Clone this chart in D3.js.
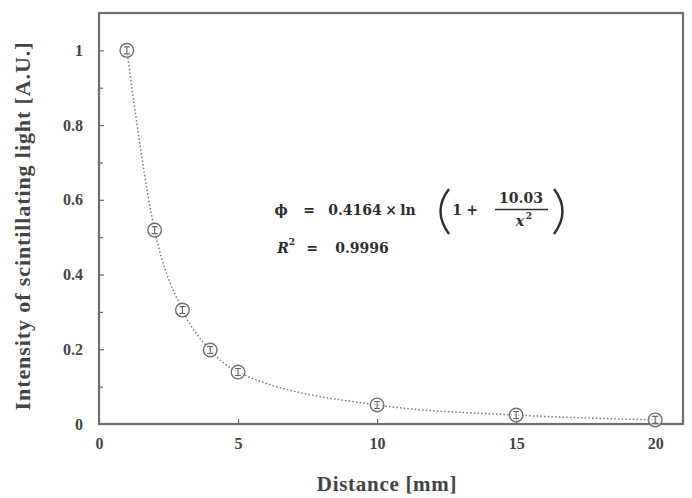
<!DOCTYPE html>
<html lang="en">
<head>
<meta charset="UTF-8">
<title>Scintillating light vs distance</title>
<script src="https://cdn.jsdelivr.net/npm/d3@7"></script>
<style>
body { margin: 0; background: #fff; }
text { font-family: 'Liberation Serif', 'Times New Roman', serif; font-weight: bold; fill: #444; }
.eq text { font-family: 'DejaVu Serif', serif; font-size: 14px; fill: #2e2e2e; }
</style>
</head>
<body>
<svg width="692" height="498"></svg>
<script>
// measured points
var distances = [1, 2, 3, 4, 5, 10, 15, 20];
var intensities = [1.0, 0.519, 0.305, 0.198, 0.139, 0.051, 0.024, 0.011];
var xTicks = [0, 5, 10, 15, 20];
var yTicks = [0, 0.2, 0.4, 0.6, 0.8, 1];
var yMinorTicks = [0.1, 0.3, 0.5, 0.7, 0.9];

var svg = d3.select("svg");
var margin = {top: 13, right: 9, bottom: 74, left: 99};
var width = 692 - margin.left - margin.right;
var height = 498 - margin.top - margin.bottom;

var g = svg.append("g").attr("transform", "translate(" + margin.left + "," + margin.top + ")");

var x = d3.scaleLinear().domain([0, 21]).range([0, width]);
var y = d3.scaleLinear().domain([0, 1.1]).range([height, 0]);

var points = distances.map(function(d, i) { return {x: d, y: intensities[i]}; });

// axes
var yAxis = d3.axisLeft(y).tickValues(yTicks).tickFormat(d3.format("")).tickSize(-5).tickPadding(16);
var yMinor = d3.axisLeft(y).tickValues(yMinorTicks).tickFormat("").tickSize(-4);
var xAxis = d3.axisBottom(x).tickValues(xTicks).tickSize(-5).tickPadding(14);

g.append("g").attr("class", "y axis").call(yAxis);
g.append("g").attr("class", "y minor").call(yMinor);
g.append("g").attr("class", "x axis").attr("transform", "translate(0," + height + ")").call(xAxis);

g.selectAll(".axis .domain, .minor .domain").remove();
g.selectAll(".tick line").attr("stroke", "#666").attr("stroke-width", 1.2);
g.selectAll(".tick text").style("font-size", "16px").attr("fill", "#4a4a4a");

// frame
g.append("rect")
    .attr("width", width).attr("height", height)
    .attr("fill", "none").attr("stroke", "#6e6e6e").attr("stroke-width", 2.2);

// dotted fit through the points
var line = d3.line()
    .x(function(d) { return x(d.x); })
    .y(function(d) { return y(d.y); })
    .curve(d3.curveMonotoneX);

g.append("path")
    .datum(points)
    .attr("d", line)
    .attr("fill", "none")
    .attr("stroke", "#7a7a7a")
    .attr("stroke-width", 1.5)
    .attr("stroke-dasharray", "1.5,2.2");

// markers with tiny error bars
var markers = g.selectAll(".marker").data(points).enter().append("g")
    .attr("class", "marker")
    .attr("transform", function(d) { return "translate(" + x(d.x) + "," + y(d.y) + ")"; });

markers.append("circle").attr("r", 6.8)
    .attr("fill", "#fff").attr("fill-opacity", 0.6)
    .attr("stroke", "#707070").attr("stroke-width", 1.4);
markers.append("path")
    .attr("d", "M-3,-3.5H3M0,-3.5V3.5M-3,3.5H3")
    .attr("fill", "none").attr("stroke", "#666").attr("stroke-width", 1.1);

// axis titles
svg.append("text")
    .attr("transform", "translate(30,226) rotate(-90)")
    .attr("text-anchor", "middle")
    .style("font-size", "22px")
    .style("letter-spacing", "0.9px")
    .text("Intensity of scintillating light [A.U.]");

svg.append("text")
    .attr("x", 387)
    .attr("y", 491)
    .attr("text-anchor", "middle")
    .style("font-size", "21px")
    .style("letter-spacing", "0.7px")
    .text("Distance [mm]");

// equation
var eq = svg.append("g").attr("class", "eq");
function eqText(cx, cy, s, italic) {
    return eq.append("text").attr("x", cx).attr("y", cy).attr("text-anchor", "middle")
        .style("font-style", italic ? "italic" : "normal").text(s);
}
eqText(281, 215, "ϕ");
eqText(309, 215, "=");
eqText(355, 215, "0.4164");
eqText(391, 215, "×");
eqText(408, 215, "ln");
eqText(457, 215, "1");
eqText(472, 215, "+");
eqText(521, 203, "10.03");
eqText(520, 226, "x", true);
eqText(529, 219, "2").style("font-size", "9px");
eq.append("line").attr("x1", 495).attr("x2", 548).attr("y1", 209.5).attr("y2", 209.5)
    .attr("stroke", "#2e2e2e").attr("stroke-width", 1.3);
eq.append("path").attr("d", "M449,189 Q432,211 449,234")
    .attr("fill", "none").attr("stroke", "#2e2e2e").attr("stroke-width", 2.4);
eq.append("path").attr("d", "M554,189 Q571,211 554,234")
    .attr("fill", "none").attr("stroke", "#2e2e2e").attr("stroke-width", 2.4);
eqText(283, 253, "R", true);
eqText(292, 245, "2").style("font-size", "9px");
eqText(312, 253, "=");
eqText(362, 253, "0.9996");
</script>
</body>
</html>
